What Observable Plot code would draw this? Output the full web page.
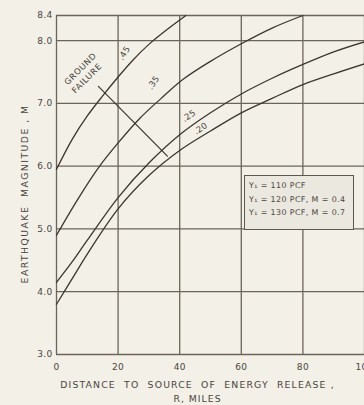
<!DOCTYPE html>
<html><head><meta charset="utf-8">
<script src="https://cdn.jsdelivr.net/npm/d3@7"></script>
<script src="https://cdn.jsdelivr.net/npm/@observablehq/plot@0.6"></script>
<style>
html,body{margin:0;padding:0;background:#f3f0e7;overflow:hidden;width:364px;height:405px}
#wrap{position:relative;width:380px;height:405px}
#legend{position:absolute;left:244px;top:175px;width:104px;height:50px;border:1.5px solid #5d574f;background:#ebe8df;
 font-family:"DejaVu Sans";font-size:7.9px;color:#4a4540;letter-spacing:0.4px;padding:3px 0 0 4px;line-height:13.5px;box-sizing:content-box;white-space:nowrap}
</style></head>
<body><div id="wrap"><div id="chart"></div><div id="legend"></div></div>
<script>
const xTicks = [0, 20, 40, 60, 80, 100];
const yTicks = [3, 4, 5, 6, 7, 8, 8.4];

const curveNames = [".45", ".35", ".25", ".20"];
const dist45 = [0, 5, 10, 15, 20, 25, 30, 36, 42];
const mag45  = [5.95, 6.42, 6.8, 7.12, 7.42, 7.7, 7.94, 8.18, 8.4];
const dist35 = [0, 7, 14, 20, 27, 34, 41, 50, 60, 70, 80];
const mag35  = [4.9, 5.48, 6.0, 6.37, 6.76, 7.08, 7.38, 7.67, 7.95, 8.2, 8.4];
const dist25 = [0, 5, 10, 20, 30, 40, 50, 60, 70, 80, 90, 100];
const mag25  = [4.15, 4.47, 4.82, 5.5, 6.05, 6.5, 6.85, 7.15, 7.4, 7.62, 7.82, 7.98];
const dist20 = [0, 5, 10, 20, 30, 40, 50, 60, 70, 80, 90, 100];
const mag20  = [3.8, 4.2, 4.6, 5.32, 5.85, 6.25, 6.56, 6.85, 7.08, 7.3, 7.47, 7.63];

const groundDist = [13.6, 36];
const groundMag  = [7.27, 6.16];

const labelText = [".45", ".35", ".25", ".20"];
const labelDist = [22, 31.5, 43, 46.8];
const labelMag  = [7.8, 7.33, 6.8, 6.6];
const labelAngle = [-58, -55, -35, -35];

const gfText = ["GROUND", "FAILURE"];
const gfDist = [7.8, 9.9];
const gfMag  = [7.55, 7.4];

const xTitle = ["DISTANCE  TO  SOURCE  OF  ENERGY  RELEASE ,", "R, MILES"];
const yTitle = "EARTHQUAKE  MAGNITUDE , M";

const legendLines = ["Y\u2081 = 110 PCF", "Y\u2081 = 120 PCF, M = 0.4", "Y\u2081 = 130 PCF, M = 0.7"];

const series = [[dist45, mag45], [dist35, mag35], [dist25, mag25], [dist20, mag20]];
const rows = series.flatMap(([ds, ms], i) => ds.map((d, j) => ({curve: curveNames[i], d, m: ms[j]})));
const ground = groundDist.map((d, i) => ({d, m: groundMag[i]}));
const labels = labelText.map((t, i) => ({t, d: labelDist[i], m: labelMag[i], a: labelAngle[i]}));
const gf = gfText.map((t, i) => ({t, d: gfDist[i], m: gfMag[i]}));

const ink = "#3b3631", grid = "#6b645a", txt = "#4a4540";
const plot = Plot.plot({
  width: 380, height: 405,
  marginLeft: 56, marginRight: 16, marginTop: 15, marginBottom: 51,
  style: {background: "transparent", fontFamily: "DejaVu Sans", fontSize: "9px", color: txt, letterSpacing: "0.3px"},
  x: {domain: [0, 100], ticks: xTicks, tickSize: 0, tickPadding: 9, label: null, tickFormat: d => String(d)},
  y: {domain: [3, 8.4], ticks: yTicks, tickSize: 0, tickPadding: 4, label: null, tickFormat: d => d.toFixed(1)},
  marks: [
    Plot.ruleX(xTicks, {stroke: grid, strokeWidth: 1.3}),
    Plot.ruleY(yTicks, {stroke: grid, strokeWidth: 1.3}),
    Plot.line(rows, {x: "d", y: "m", z: "curve", curve: "catmull-rom", stroke: ink, strokeWidth: 1.3}),
    Plot.line(ground, {x: "d", y: "m", stroke: ink, strokeWidth: 1.2}),
    ...labels.map(l => Plot.text([l], {x: "d", y: "m", text: "t", rotate: l.a, fill: txt, fontSize: 8.5})),
    Plot.text(gf, {x: "d", y: "m", text: "t", rotate: -45, fill: txt, fontSize: 8.3}),
    Plot.text([xTitle[0]], {frameAnchor: "bottom", lineAnchor: "middle", textAnchor: "middle", dy: 31, dx: -13, fill: txt, fontSize: 9.3}),
    Plot.text([xTitle[1]], {frameAnchor: "bottom", lineAnchor: "middle", textAnchor: "middle", dy: 45, dx: -13, fill: txt, fontSize: 9.3}),
    Plot.text([yTitle], {frameAnchor: "left", lineAnchor: "middle", textAnchor: "middle", rotate: -90, dx: -31, dy: 9, fill: txt, fontSize: 9.3})
  ]
});
d3.select(plot).selectAll("text").each(function() {
  const s = this.textContent;
  if (s === xTitle[0]) this.style.letterSpacing = "1.15px";
  else if (s === xTitle[1]) this.style.letterSpacing = "1px";
  else if (s === yTitle) this.style.letterSpacing = "1.45px";
  else if (gfText.includes(s)) this.style.letterSpacing = "0.7px";
});
document.getElementById("chart").appendChild(plot);
document.getElementById("legend").innerHTML = legendLines.map(s => `<div>${s}</div>`).join("");
</script>
</body></html>
